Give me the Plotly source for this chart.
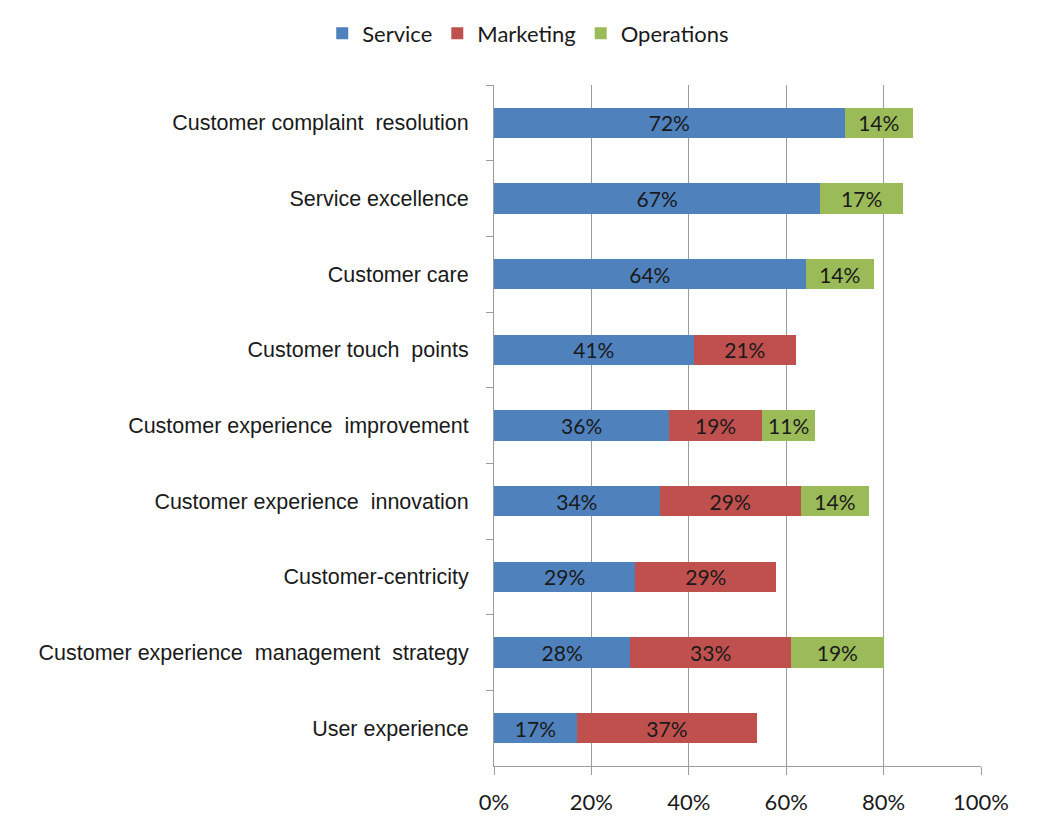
import plotly.graph_objects as go

categories = [
    "Customer complaint  resolution",
    "Service excellence",
    "Customer care",
    "Customer touch  points",
    "Customer experience  improvement",
    "Customer experience  innovation",
    "Customer-centricity",
    "Customer experience  management  strategy",
    "User experience",
]
service = [72, 67, 64, 41, 36, 34, 29, 28, 17]
marketing = [None, None, None, 21, 19, 29, 29, 33, 37]
operations = [14, 17, 14, None, 11, 14, None, 19, None]
x_ticks = [0, 20, 40, 60, 80, 100]
x_tick_labels = ["0%", "20%", "40%", "60%", "80%", "100%"]

series = [
    ("Service", service, "#4F81BD"),
    ("Marketing", marketing, "#C0504D"),
    ("Operations", operations, "#9BBB59"),
]

fig = go.Figure()
for name, vals, color in series:
    fig.add_trace(go.Bar(
        name=name,
        y=categories,
        x=vals,
        orientation="h",
        marker=dict(color=color, line=dict(width=0)),
        width=0.4,
        text=[f"{v}%" if v is not None else "" for v in vals],
        textposition="inside",
        insidetextanchor="middle",
        textangle=0,
        constraintext="none",
        textfont=dict(family="Lato, Open Sans, sans-serif", size=21, color="#1a1a1a"),
        hoverinfo="skip",
    ))

fig.update_layout(
    barmode="stack",
    width=1046,
    height=832,
    margin=dict(l=494, r=65, t=85, b=66),
    paper_bgcolor="white",
    plot_bgcolor="white",
    showlegend=True,
    legend=dict(
        orientation="h",
        x=0.505, xref="container", xanchor="center",
        y=0.985, yref="container", yanchor="top",
        font=dict(family="Lato, Open Sans, sans-serif", size=22, color="#1a1a1a"),
        itemwidth=30,
        traceorder="normal",
    ),
    xaxis=dict(
        range=[0, 100],
        tickvals=x_ticks,
        ticktext=x_tick_labels,
        showgrid=True,
        gridcolor="#9c9c9c",
        gridwidth=1,
        ticks="outside",
        ticklen=8,
        tickcolor="#9c9c9c",
        showline=True,
        linecolor="#9c9c9c",
        tickfont=dict(family="Lato, Open Sans, sans-serif", size=22, color="#1a1a1a"),
        ticklabelstandoff=9,
        zeroline=False,
        fixedrange=True,
    ),
    yaxis=dict(
        autorange="reversed",
        showgrid=False,
        ticks="outside",
        tickson="boundaries",
        ticklen=7,
        tickcolor="#9c9c9c",
        showline=True,
        linecolor="#9c9c9c",
        tickfont=dict(family="Liberation Sans, Arial, sans-serif", size=21.5, color="#1a1a1a"),
        ticklabelstandoff=20,
        fixedrange=True,
    ),
)

fig.write_html("out.html")
